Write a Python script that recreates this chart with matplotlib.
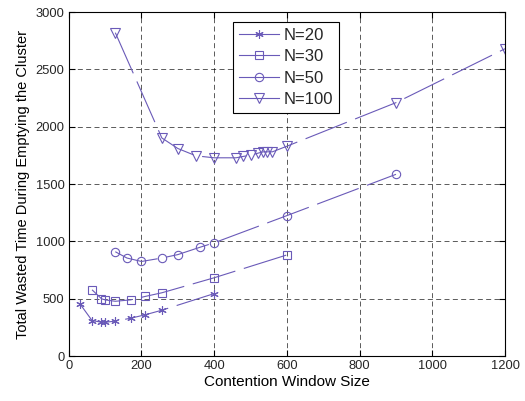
import numpy as np
import matplotlib
matplotlib.use("Agg")
from matplotlib import pyplot as plt

plt.rc('font', family='Liberation Sans', size=9.3)
plt.rc('text', color='#262626')
plt.rc('xtick', labelcolor='#262626')
plt.rc('ytick', labelcolor='#262626')

# data
cw_20 = [32, 64, 90, 100, 128, 170, 210, 256, 400]
t_20 = [450, 310, 295, 295, 305, 330, 360, 400, 545]

cw_30 = [64, 90, 100, 128, 170, 210, 256, 400, 600]
t_30 = [578, 500, 490, 478, 490, 520, 552, 683, 882]

cw_50 = [128, 160, 200, 256, 300, 360, 400, 600, 900]
t_50 = [910, 855, 825, 855, 885, 948, 988, 1225, 1585]

cw_100 = [128, 256, 300, 350, 400, 460, 480, 500, 520, 535, 545, 560, 600, 900, 1200]
t_100 = [2820, 1902, 1810, 1746, 1729, 1729, 1741, 1752, 1769, 1781, 1781, 1781, 1830, 2210, 2680]

labels = ["N=20", "N=30", "N=50", "N=100"]
col = '#6a5ab8'

fig = plt.figure(figsize=(5.25, 4.01), dpi=100)
ax = fig.add_axes([0.131, 0.112, 0.831, 0.858])

ls = (0, (40, 8))
ax.plot(cw_20, t_20, color=col, lw=0.8, ls=ls, marker=(6, 2, 0), ms=6, mew=0.8, label=labels[0])
ax.plot(cw_30, t_30, color=col, lw=0.8, ls=ls, marker='s', ms=6, mfc='none', mew=0.8, label=labels[1])
ax.plot(cw_50, t_50, color=col, lw=0.8, ls=ls, marker='o', ms=6, mfc='none', mew=0.8, label=labels[2])
ax.plot(cw_100, t_100, color=col, lw=0.8, ls=ls, marker='v', ms=7, mfc='none', mew=0.8, label=labels[3])

ax.set_xlim(0, 1200)
ax.set_ylim(0, 3000)
ax.set_xticks(np.arange(0, 1201, 200))
ax.set_yticks(np.arange(0, 3001, 500))
ax.grid(True, color='black', ls=(0, (6, 4)), lw=0.6, alpha=0.75)
ax.tick_params(direction='in', top=True, right=True, length=4, pad=3)
for s in ax.spines.values():
    s.set_linewidth(0.8)

ax.set_xlabel("Contention Window Size", fontsize=11, labelpad=2)
ax.set_ylabel("Total Wasted Time During Emptying the Cluster", fontsize=10.5, labelpad=4)

leg = ax.legend(loc='upper left', bbox_to_anchor=(0.376, 0.971), fontsize=12,
                fancybox=False, edgecolor='black', framealpha=1, borderaxespad=0,
                handlelength=2.4, labelspacing=0.38, borderpad=0.35, handletextpad=0.3)
leg.get_frame().set_linewidth(0.8)
for h in leg.get_lines():
    h.set_linestyle('-')

fig.savefig("out.png", dpi=100)
